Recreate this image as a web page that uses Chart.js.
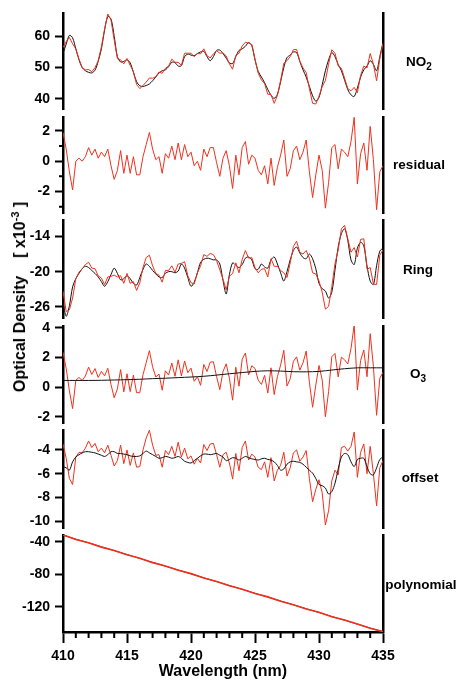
<!DOCTYPE html>
<html>
<head>
<meta charset="utf-8">
<script src="https://cdn.jsdelivr.net/npm/chart.js@4.4.1/dist/chart.umd.min.js"></script>
<style>
html, body { margin: 0; padding: 0; background: #fff; }
#wrap { position: relative; width: 458px; height: 681px; overflow: hidden; font-family: "Liberation Sans", Arial, sans-serif; color: #000; }
#wrap canvas { position: absolute; left: 0; top: 0; }
.lbl { position: absolute; transform: translate(-50%, -50%); font-weight: bold; font-size: 13.5px; white-space: nowrap; line-height: 16px; }
.lbl sub { font-size: 10px; vertical-align: -4px; line-height: 0; }
#ytitle { position: absolute; left: 20px; top: 297px; transform: translate(-50%, -50%) rotate(-90deg); font-weight: bold; font-size: 16px; white-space: nowrap; line-height: 18px; }
#ytitle sup { font-size: 11px; vertical-align: 6px; line-height: 0; }
</style>
</head>
<body>
<div id="wrap">
  <canvas id="p0" width="458" height="681"></canvas>
  <canvas id="p1" width="458" height="681"></canvas>
  <canvas id="p2" width="458" height="681"></canvas>
  <canvas id="p3" width="458" height="681"></canvas>
  <canvas id="p4" width="458" height="681"></canvas>
  <canvas id="p5" width="458" height="681"></canvas>
  <div class="lbl" style="left:419px;top:62px">NO<sub>2</sub></div>
  <div class="lbl" style="left:419px;top:165px">residual</div>
  <div class="lbl" style="left:418px;top:270px">Ring</div>
  <div class="lbl" style="left:418px;top:374px">O<sub>3</sub></div>
  <div class="lbl" style="left:420px;top:478px">offset</div>
  <div class="lbl" style="left:421px;top:585px">polynomial</div>
  <div id="ytitle">Optical Density&nbsp;&nbsp;&nbsp; [ x10<sup>-3</sup> ]</div>
</div>
<script>
// wavelength grid (nm)
const wavelengths = [
  410,410.25,410.5,410.75,411,411.25,411.5,411.75,412,412.25,
  412.5,412.75,413,413.25,413.5,413.75,414,414.25,414.5,414.75,
  415,415.25,415.5,415.75,416,416.25,416.5,416.75,417,417.25,
  417.5,417.75,418,418.25,418.5,418.75,419,419.25,419.5,419.75,
  420,420.25,420.5,420.75,421,421.25,421.5,421.75,422,422.25,
  422.5,422.75,423,423.25,423.5,423.75,424,424.25,424.5,424.75,
  425,425.25,425.5,425.75,426,426.25,426.5,426.75,427,427.25,
  427.5,427.75,428,428.25,428.5,428.75,429,429.25,429.5,429.75,
  430,430.25,430.5,430.75,431,431.25,431.5,431.75,432,432.25,
  432.5,432.75,433,433.25,433.5,433.75,434,434.25,434.5,434.75,
  435
];
const wavelengthsCoarse = [
  410,411,412,413,414,415,416,417,418,419,420,421,422,
  423,424,425,426,427,428,429,430,431,432,433,434,435
];

// NO2
const no2Fit = [
  54.5,57.5,60.3,59.5,56,52.5,50,49,48.5,48.3,
  49.2,52,56,62,66.3,65.5,60,53.5,51.8,52,
  52.5,51.5,48.5,45.5,44.2,44,44.3,44.8,45.8,47,
  48.3,49,49.3,50.3,51.7,51.6,50.5,50.6,53.5,54.3,
  54,53.8,54.5,55,55.2,53.5,52.2,53.5,55.5,55.6,
  54.5,53,51.5,51.3,53.5,55.5,56,56.8,58,57,
  52.5,48.8,47,45.2,43,41.2,40.2,41.5,45.5,50,
  53.2,54,55,54.8,52,49.3,47,44,41,39.3,
  40.5,44.5,49,52.5,54.8,53.5,51,49,46,43,
  41.3,40.8,43.5,47,49.3,50.5,52.2,51,49,53.5,
  58
];
const no2Measured = [
  56.4,58.3,59.6,57.6,56,52.7,50,49.3,49.4,48.7,
  50,52.2,56.6,62.3,67.1,65.2,58.8,52.9,52.5,51.2,
  52.9,50.7,48.8,44.6,43.3,44.3,45.4,46.7,46.6,47.1,
  48.6,48.2,49.8,50.5,52.7,51.7,51.7,50.7,54.6,54.6,
  54.6,53.5,54.5,54.4,56,53.8,53.1,54.4,55.4,54.6,
  54.7,53.7,51.2,49.5,53.9,54.6,56.9,58.1,57.8,57.4,
  52.7,48.2,46.1,44.9,41.5,41.4,38.6,41.1,45.9,51.4,
  52.2,53.5,55.7,55.8,52.1,49.9,48.4,43.3,38.6,38.4,
  40.9,43.9,45.9,51.1,55.7,54.6,50.5,49.8,46.6,43.3,
  42.6,43.7,42,47.5,50.5,49.9,54.5,51.1,45.8,52.8,
  57.7
];

// residual
const residual = [
  1.9,0.8,-0.7,-1.9,0,0.2,0,0.3,0.9,0.4,
  0.8,0.2,0.6,0.3,0.8,-0.3,-1.2,-0.6,0.7,-0.8,
  0.4,-0.8,0.3,-0.9,-0.9,0.3,1.1,1.9,0.8,0.1,
  0.3,-0.8,0.5,0.2,1,0.1,1.2,0.1,1.1,0.3,
  0.6,-0.3,0,-0.6,0.8,0.3,0.9,0.9,-0.1,-1,
  0.2,0.7,-0.3,-1.8,0.4,-0.9,0.9,1.3,-0.2,0.4,
  0.2,-0.6,-0.9,-0.3,-1.5,0.2,-1.6,-0.4,0.4,1.4,
  -1,-0.5,0.7,1,0.1,0.6,1.4,-0.7,-2.4,-0.9,
  0.4,-0.6,-3.1,-1.4,0.9,1.1,-0.5,0.8,0.6,0.3,
  1.3,2.9,-1.5,0.5,1.2,-0.6,2.3,0.1,-3.2,-0.7,
  -0.3
];

// Ring
const ringFit = [
  -25.2,-27.6,-25.8,-22.6,-21.2,-20.3,-19.5,-19.1,-19.3,-19.8,
  -20.3,-20.9,-21.7,-22.5,-21.7,-20.5,-19.4,-20.3,-21.4,-21.2,
  -20.7,-21.2,-22,-22.3,-21,-19.6,-18.7,-19.1,-19.8,-20.4,
  -20.9,-21,-20.3,-20,-20,-20.2,-19.9,-18.7,-19.4,-21,
  -22.5,-21.8,-20.2,-18.4,-17.9,-17.7,-17.8,-18,-18,-18.7,
  -21.5,-23.8,-20.5,-18.5,-18.9,-19.3,-18.8,-17.7,-17.5,-18,
  -19.5,-19.6,-18.7,-19.2,-19.4,-18,-17.5,-18.7,-20.2,-21.6,
  -20,-18,-16.4,-15.8,-16.8,-17.6,-17.8,-17,-17.8,-19.5,
  -22,-22.9,-23.3,-24.5,-23.5,-19.7,-15.8,-13.5,-12.7,-14.7,
  -18,-18.8,-16,-15,-15.6,-19,-21.6,-22.2,-19,-16.5,
  -16
];
const ringMeasured = [
  -23.3,-26.8,-26.5,-24.5,-21.2,-20.1,-19.5,-18.8,-18.4,-19.4,
  -19.5,-20.7,-21.1,-22.2,-20.9,-20.8,-20.6,-20.9,-20.7,-22,
  -20.3,-22,-21.7,-23.2,-21.9,-19.3,-17.6,-17.2,-19,-20.3,
  -20.6,-21.8,-19.8,-19.8,-19,-20.1,-18.7,-18.6,-18.3,-20.7,
  -21.9,-22.1,-20.2,-19,-17.1,-17.4,-16.9,-17.1,-18.1,-19.7,
  -21.3,-23.1,-20.8,-20.3,-18.5,-20.2,-17.9,-16.4,-17.7,-17.6,
  -19.3,-20.2,-19.6,-19.5,-20.9,-17.8,-19.1,-19.1,-19.8,-20.2,
  -21,-18.5,-15.7,-14.8,-16.7,-17,-16.4,-17.7,-20.2,-20.4,
  -21.6,-23.5,-26.4,-25.9,-22.6,-18.6,-16.3,-12.7,-12.1,-14.4,
  -16.7,-15.9,-17.5,-14.5,-14.4,-19.6,-19.3,-22.1,-22.2,-17.2,
  -16.3
];

// O3
const o3Fit = [
  0.45,0.45,0.45,0.46,0.48,0.5,0.53,0.57,0.6,0.64,0.68,0.73,0.81,
  0.9,0.98,1.06,1.1,1.08,1.04,1.03,1.06,1.15,1.24,1.3,1.3,1.3
];
const o3Measured = [
  2.35,1.25,-0.25,-1.45,0.45,0.65,0.45,0.75,1.35,0.85,
  1.25,0.65,1.06,0.76,1.27,0.17,-0.72,-0.12,1.18,-0.32,
  0.9,-0.3,0.81,-0.38,-0.37,0.84,1.65,2.46,1.37,0.68,
  0.88,-0.21,1.1,0.81,1.62,0.73,1.84,0.75,1.76,0.97,
  1.28,0.39,0.7,0.12,1.53,1.05,1.68,1.71,0.71,-0.17,
  1.05,1.57,0.6,-0.88,1.34,0.06,1.88,2.3,0.82,1.44,
  1.26,0.47,0.18,0.79,-0.4,1.3,-0.5,0.7,1.48,2.48,
  0.07,0.56,1.74,2.04,1.14,1.64,2.43,0.33,-1.36,0.14,
  1.46,0.48,-2,-0.3,2.05,2.27,0.69,2.02,1.84,1.56,
  2.6,4.2,-0.2,1.8,2.5,0.7,3.6,1.4,-1.9,0.6,
  1.0
];

// offset
const offsetFit = [
  -5.4,-5.5,-5.7,-5,-4.6,-4.4,-4.25,-4.15,-4.15,-4.2,
  -4.25,-4.35,-4.45,-4.55,-4.4,-4.15,-4.15,-4.3,-4.3,-4.35,
  -4.4,-4.5,-4.55,-4.55,-4.5,-4.3,-4.1,-4.25,-4.4,-4.55,
  -4.7,-4.65,-4.55,-4.6,-4.7,-4.65,-4.55,-4.7,-4.95,-5.05,
  -5.1,-4.9,-4.7,-4.5,-4.35,-4.35,-4.4,-4.35,-4.3,-4.45,
  -4.6,-4.9,-4.8,-4.65,-4.7,-4.85,-4.7,-4.55,-4.65,-4.75,
  -4.8,-4.85,-4.75,-4.7,-4.8,-4.85,-5,-5.3,-5.7,-5.6,
  -5.2,-5,-4.95,-5,-5.05,-5.2,-5.45,-5.7,-5.95,-6.4,
  -6.9,-7,-7.2,-7.7,-7.5,-6.8,-5.6,-4.6,-4.3,-4.4,
  -5,-5.4,-4.8,-4.7,-4.7,-5.4,-6,-6.1,-5.5,-4.8,
  -4.6
];
const offsetMeasured = [
  -3.5,-4.7,-6.4,-6.9,-4.6,-4.2,-4.25,-3.85,-3.25,-3.8,
  -3.45,-4.15,-3.85,-4.25,-3.6,-4.45,-5.35,-4.9,-3.6,-5.15,
  -4,-5.3,-4.25,-5.45,-5.4,-4,-3,-2.35,-3.6,-4.45,
  -4.4,-5.45,-4.05,-4.4,-3.7,-4.55,-3.35,-4.6,-3.85,-4.75,
  -4.5,-5.2,-4.7,-5.1,-3.55,-4.05,-3.5,-3.45,-4.4,-5.45,
  -4.4,-4.2,-5.1,-6.45,-4.3,-5.75,-3.8,-3.25,-4.85,-4.35,
  -4.6,-5.45,-5.65,-5,-6.3,-4.65,-6.6,-5.7,-5.3,-4.2,
  -6.2,-5.5,-4.25,-4,-4.95,-4.6,-4.05,-6.4,-8.35,-7.3,
  -6.5,-7.6,-10.3,-9.1,-6.6,-5.7,-6.1,-3.8,-3.7,-4.1,
  -3.7,-2.5,-6.3,-4.2,-3.5,-6,-3.7,-6,-8.7,-5.5,
  -4.9
];

// polynomial
const polyFit = [
  -32,-36.8,-41.5,-46.3,-51,-55.8,-60.6,-65.3,-70.1,-74.8,-79.6,-84.4,-89.1,
  -93.9,-98.6,-103.4,-108.2,-112.9,-117.7,-122.4,-127.2,-132,-136.7,-141.5,-146.2,-151
];
const polyMeasured = [
  -31.6,-37.3,-41.2,-46.7,-50.8,-56.1,-60.3,-65.8,-69.8,-75.2,-79.3,-84.8,-88.9,
  -94.3,-98.4,-103.8,-107.9,-113.3,-117.5,-122.8,-126.9,-132.4,-136.4,-141.2,-146.6,-150.7
];

// tick labels
const no2Ticks = [40, 50, 60];
const residualTicks = [-2, 0, 2];
const residualMinorTicks = [-3, -1, 1];
const ringTicks = [-26, -20, -14];
const o3Ticks = [-2, 0, 2, 4];
const offsetTicks = [-10, -8, -6, -4];
const polyTicks = [-120, -80, -40];
const wlTicks = [410, 415, 420, 425, 430, 435];
const wlMinorTicks = [411,412,413,414,416,417,418,419,421,422,423,424,426,427,428,429,431,432,433,434];

const RED = '#f0301c';
const BLACK = '#111';
const W = 458, H = 681, PLOT_LEFT = 63, PLOT_RIGHT = 383;
const tickFont = { family: '"Liberation Sans", Arial, sans-serif', size: 14, weight: 'bold' };

const panels = [
  { top: 12, bottom: 109, min: 36.8, max: 67.3, ticks: no2Ticks,
    series: [ { x: wavelengths, y: no2Measured, color: RED }, { x: wavelengths, y: no2Fit, color: BLACK, smooth: true } ] },
  { top: 117, bottom: 213, min: -3.42, max: 2.92, ticks: residualTicks, minor: residualMinorTicks,
    series: [ { x: wavelengths, y: residual, color: RED } ] },
  { top: 220, bottom: 318, min: -27.9, max: -11.2, ticks: ringTicks,
    series: [ { x: wavelengths, y: ringMeasured, color: RED }, { x: wavelengths, y: ringFit, color: BLACK, smooth: true } ] },
  { top: 326, bottom: 423, min: -2.42, max: 4.12, ticks: o3Ticks,
    series: [ { x: wavelengthsCoarse, y: o3Fit, color: BLACK, smooth: true }, { x: wavelengths, y: o3Measured, color: RED } ] },
  { top: 430, bottom: 528, min: -10.55, max: -2.33, ticks: offsetTicks,
    series: [ { x: wavelengths, y: offsetFit, color: BLACK, smooth: true }, { x: wavelengths, y: offsetMeasured, color: RED } ] },
  { top: 535, bottom: 632, min: -151.1, max: -31.8, ticks: polyTicks, last: true,
    series: [ { x: wavelengthsCoarse, y: polyMeasured, color: RED, width: 1.6 }, { x: wavelengthsCoarse, y: polyFit, color: BLACK, width: 0.8 } ] }
];

// short ticks that the library doesn't draw itself
const minorTicks = {
  id: 'minorTicks',
  afterDraw(chart) {
    const ctx = chart.ctx;
    ctx.save();
    ctx.strokeStyle = '#000';
    ctx.lineWidth = 2;
    ctx.beginPath();
    (chart.$minorY || []).forEach(v => {
      const py = chart.scales.y.getPixelForValue(v);
      ctx.moveTo(chart.scales.y.right, py);
      ctx.lineTo(chart.scales.y.right - 4, py);
    });
    (chart.$minorX || []).forEach(v => {
      const px = chart.scales.x.getPixelForValue(v);
      ctx.moveTo(px, chart.scales.x.top);
      ctx.lineTo(px, chart.scales.x.top + 6);
    });
    ctx.stroke();
    ctx.restore();
  }
};

panels.forEach((p, n) => {
  const chart = new Chart(document.getElementById('p' + n), {
    type: 'line',
    data: {
      datasets: p.series.map(s => ({
        data: s.x.map((x, i) => ({ x: x, y: s.y[i] })),
        borderColor: s.color,
        borderWidth: s.width || 1,
        pointRadius: 0,
        tension: s.smooth ? 0.3 : 0,
        fill: false
      }))
    },
    options: {
      responsive: false,
      animation: false,
      events: [],
      layout: { padding: { top: p.top, bottom: p.last ? 0 : H - p.bottom, left: 0, right: W - PLOT_RIGHT } },
      plugins: { legend: { display: false }, tooltip: { enabled: false } },
      scales: {
        x: {
          type: 'linear', min: 410, max: 435,
          display: !!p.last,
          afterFit: s => { if (p.last) s.height = H - p.bottom; },
          afterBuildTicks: s => { s.ticks = wlTicks.map(v => ({ value: v })); },
          ticks: { font: tickFont, color: '#000', padding: 5, maxRotation: 0 },
          grid: { drawOnChartArea: false, tickLength: 11, tickWidth: 2, tickColor: '#000' },
          border: { width: 2.5, color: '#000' },
          title: { display: true, text: 'Wavelength (nm)', color: '#000', padding: 0,
                   font: { family: '"Liberation Sans", Arial, sans-serif', size: 16, weight: 'bold' } }
        },
        y: {
          min: p.min, max: p.max,
          afterFit: s => { s.width = PLOT_LEFT; },
          afterBuildTicks: s => { s.ticks = p.ticks.map(v => ({ value: v })); },
          ticks: { font: tickFont, color: '#000', padding: 5 },
          grid: { drawOnChartArea: false, tickLength: 8, tickWidth: 2, tickColor: '#000' },
          border: { width: 2.5, color: '#000' }
        },
        yr: {
          position: 'right', display: true, min: p.min, max: p.max,
          afterFit: s => { s.width = 0; },
          ticks: { display: false },
          grid: { display: false, drawTicks: false },
          border: { width: 2.5, color: '#000' }
        }
      }
    },
    plugins: [minorTicks]
  });
  chart.$minorY = p.minor || [];
  chart.$minorX = p.last ? wlMinorTicks : [];
  chart.draw();
});
</script>
</body>
</html>
